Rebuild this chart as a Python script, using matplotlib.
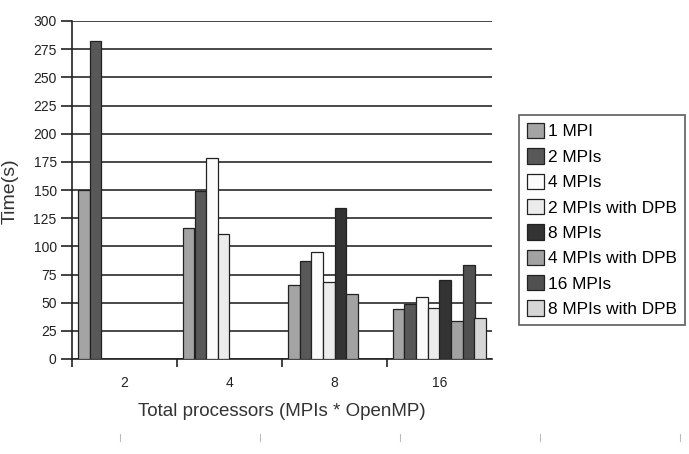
import numpy as np
import matplotlib
matplotlib.use("Agg")
import matplotlib.pyplot as plt
from matplotlib.lines import Line2D

plt.rcParams['font.family'] = ['Liberation Sans', 'DejaVu Sans']

categories = ["2", "4", "8", "16"]
nan = np.nan
series_names = ["1 MPI", "2 MPIs", "4 MPIs", "2 MPIs with DPB",
                "8 MPIs", "4 MPIs with DPB", "16 MPIs", "8 MPIs with DPB"]
one_mpi = [150, 116, 66, 44]
two_mpis = [282, 149, 87, 49]
four_mpis = [nan, 178, 95, 55]
two_mpis_dpb = [nan, 111, 68, 45]
eight_mpis = [nan, nan, 134, 70]
four_mpis_dpb = [nan, nan, 58, 34]
sixteen_mpis = [nan, nan, nan, 83]
eight_mpis_dpb = [nan, nan, nan, 36]
series_values = [one_mpi, two_mpis, four_mpis, two_mpis_dpb,
                 eight_mpis, four_mpis_dpb, sixteen_mpis, eight_mpis_dpb]
colors = ["#a4a4a4", "#585858", "#fbfbfb", "#ececec",
          "#333333", "#a2a2a2", "#505050", "#d6d6d6"]
yticks = list(range(0, 301, 25))

W, H = 689, 454
fig = plt.figure(figsize=(W / 100, H / 100), dpi=100)
ax = fig.add_axes([72 / W, 1 - 359 / H, (492 - 72) / W, (359 - 21) / H])

n = len(series_names)
bw = 1.0 / (n + 1)
x = np.arange(len(categories))
for j, (name, vals, c) in enumerate(zip(series_names, series_values, colors)):
    lefts = x - 0.5 + (0.5 + j) * bw
    ax.bar(lefts, vals, width=bw, align='edge', color=c, edgecolor='#222222',
           linewidth=0.9, label=name, zorder=3)

ax.set_xlim(-0.5, len(categories) - 0.5)
ax.set_ylim(0, 300)
ax.set_yticks(yticks)
ax.set_yticklabels([str(v) for v in yticks], fontsize=10, color='#222222')
ax.yaxis.grid(True, color='#3a3a3a', linewidth=1.3, zorder=0)
ax.set_axisbelow(True)

ax.set_xticks(np.arange(len(categories)) - 0.5)
ax.set_xticklabels([])
ax.set_xticks(x, minor=True)
ax.set_xticklabels(categories, minor=True, fontsize=10, color='#222222')
ax.tick_params(axis='x', which='minor', length=0, pad=12)
ax.tick_params(axis='x', which='major', length=6, width=1.2, color='#222222', direction='out')
ax.tick_params(axis='y', length=8, width=1.2, color='#222222', direction='out', pad=3)

for s in ['top', 'right']:
    ax.spines[s].set_visible(False)
ax.spines['left'].set_color('#222222')
ax.spines['left'].set_linewidth(1.2)
ax.spines['bottom'].set_color('#222222')
ax.spines['bottom'].set_linewidth(1.2)

fig.text(282 / W, 1 - 411 / H, "Total processors (MPIs * OpenMP)", ha='center', va='center',
         fontsize=13.5, color='#333333')
fig.text(10 / W, 1 - 191 / H, "Time(s)", ha='center', va='center', rotation=90,
         fontsize=14, color='#333333')

leg = fig.legend(loc='upper left', bbox_to_anchor=(519 / W, 1 - 115 / H), borderaxespad=0,
                 fontsize=12.4, frameon=True, fancybox=False, edgecolor='#333333',
                 handlelength=1.0, handleheight=1.0, handletextpad=0.25,
                 labelspacing=0.51, borderpad=0.45)
leg.get_frame().set_linewidth(1.2)

# faint marks at the bottom of the image
for px in [120, 260, 400, 540, 680]:
    fig.add_artist(Line2D([px / W, px / W], [1 - 441 / H, 1 - 434 / H],
                          color='#bbbbbb', linewidth=0.8))

fig.savefig("out.png", dpi=100)
